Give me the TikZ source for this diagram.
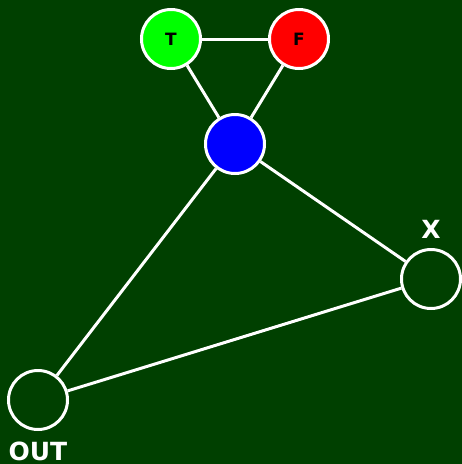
\documentclass[tikz,border=0pt]{standalone}
\usepackage{fontspec}
\setmainfont{DejaVu Sans}
\definecolor{bg}{HTML}{004000}
\begin{document}
\begin{tikzpicture}[x=1pt,y=-1pt,
  vert/.style={circle,draw=white,line width=3pt,minimum size=59pt,inner sep=0pt,font=\bfseries\fontsize{17}{17}\selectfont},
  edge/.style={white,line width=3pt},
  lbl/.style={text=white,font=\bfseries\fontsize{25}{25}\selectfont,inner sep=0pt}]
\fill[bg] (0,0) rectangle (462,464);
\useasboundingbox (0,0) rectangle (462,464);
\node[vert,fill=green] (t) at (171,39) {T};
\node[vert,fill=red] (f) at (299,39) {F};
\node[vert,fill=blue] (b) at (235,144) {};
\node[vert] (x) at (431,279) {};
\node[vert] (o) at (38,400) {};
\node[lbl] (xl) at (431,229) {X};
\node[lbl] (ol) at (38,451) {OUT};
\draw[edge] (t) -- (f);
\draw[edge] (t) -- (b);
\draw[edge] (f) -- (b);
\draw[edge] (b) -- (x);
\draw[edge] (b) -- (o);
\draw[edge] (o) -- (x);
\end{tikzpicture}
\end{document}
